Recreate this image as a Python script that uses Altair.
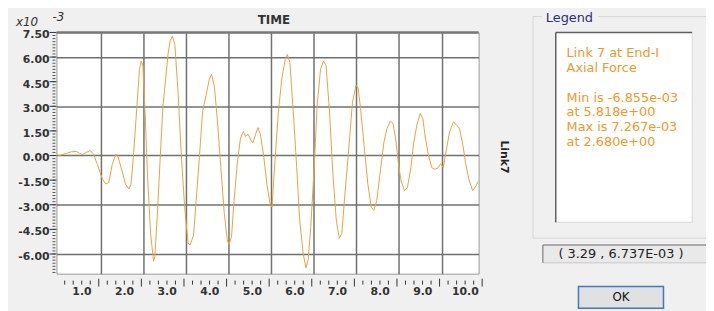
import altair as alt
import pandas as pd

# ---------------- data ----------------
time_s = [0.00, 0.03, 0.15, 0.30, 0.42, 0.50, 0.57, 0.65, 0.75, 0.83, 0.92, 1.04, 1.12, 1.19,
          1.27, 1.35, 1.40, 1.50, 1.58, 1.66, 1.71, 1.77, 1.85, 1.91, 1.95, 1.99, 2.04, 2.10,
          2.17, 2.24, 2.27, 2.33, 2.40, 2.46, 2.52, 2.58, 2.63, 2.68, 2.74, 2.82, 2.89, 2.97,
          3.05, 3.10, 3.18, 3.24, 3.32, 3.39, 3.47, 3.55, 3.60, 3.67, 3.74, 3.82, 3.90, 3.97,
          4.01, 4.07, 4.13, 4.21, 4.28, 4.35, 4.40, 4.46, 4.52, 4.57, 4.63, 4.69, 4.75, 4.83,
          4.90, 4.98, 5.02, 5.09, 5.17, 5.25, 5.33, 5.38, 5.44, 5.52, 5.60, 5.67, 5.75, 5.818,
          5.87, 5.93, 6.01, 6.08, 6.16, 6.23, 6.29, 6.37, 6.45, 6.53, 6.60, 6.66, 6.72, 6.81,
          6.91, 6.99, 7.04, 7.10, 7.18, 7.27, 7.35, 7.41, 7.48, 7.57, 7.65, 7.72, 7.80, 7.86,
          7.92, 7.99, 8.05, 8.13, 8.20, 8.28, 8.34, 8.42, 8.50, 8.56, 8.61, 8.69, 8.77, 8.84,
          8.92, 8.98, 9.04, 9.12, 9.19, 9.28, 9.35, 9.42, 9.50, 9.57, 9.65, 9.73, 9.81, 9.87]
force_e3 = [0.00, 0.00, 0.10, 0.22, 0.26, 0.14, 0.06, 0.18, 0.30, 0.10, -0.54, -1.44, -1.74, -1.64,
            -0.54, 0.06, -0.04, -0.94, -1.74, -2.04, -1.74, 0.06, 3.06, 5.26, 5.76, 5.46, 2.66, -1.34,
            -4.74, -6.44, -6.14, -3.54, 0.06, 3.00, 4.60, 6.20, 7.00, 7.267, 6.76, 3.66, 0.06, -3.14,
            -5.34, -5.44, -4.84, -2.74, 0.06, 2.66, 3.66, 4.66, 4.96, 4.16, 2.06, -0.74, -3.54, -5.14,
            -5.44, -4.94, -2.74, -0.34, 1.06, 1.46, 1.16, 1.30, 0.96, 0.76, 1.26, 1.70, 1.26, -0.14,
            -1.74, -3.04, -3.14, -0.34, 2.66, 4.66, 5.86, 6.16, 5.66, 2.66, -0.74, -3.94, -5.94, -6.855,
            -6.34, -4.34, -0.74, 3.06, 5.26, 5.76, 5.46, 2.66, -1.14, -3.94, -5.04, -4.74, -2.74, 0.06,
            3.26, 4.26, 4.16, 2.86, 0.66, -1.74, -3.14, -3.34, -2.74, -0.80, 0.86, 1.66, 2.10, 1.96,
            1.06, -0.54, -1.54, -2.14, -1.94, -0.74, 0.66, 1.86, 2.56, 2.26, 1.26, 0.06, -0.74, -0.84,
            -0.74, -0.50, -0.74, 0.46, 1.46, 2.06, 1.86, 1.66, 0.66, -0.54, -1.54, -2.14, -1.84, -1.54]

x_major = [1, 2, 3, 4, 5, 6, 7, 8, 9, 10]
x_labels = ["1.0", "2.0", "3.0", "4.0", "5.0", "6.0", "7.0", "8.0", "9.0", "10.0"]
x_minor = [round(0.2 * k, 1) for k in range(1, 50) if k % 5]
y_ticks = [-6.0, -4.5, -3.0, -1.5, 0.0, 1.5, 3.0, 4.5, 6.0, 7.5]
y_labels = ["-6.00", "-4.50", "-3.00", "-1.50", "0.00", "1.50", "3.00", "4.50", "6.00", "7.50"]
y_minor = [round(-7.125 + 0.1875 * k, 4) for k in range(0, 78)]

title_text = "TIME"
y_title = "Link7"
legend_title = "Legend"
legend_lines = ["Link 7 at End-I", "Axial Force", "", "Min is -6.855e-03",
                "at 5.818e+00", "Max is 7.267e-03", "at 2.680e+00"]
coord_text = "( 3.29 , 6.737E-03 )"
ok_text = "OK"

# ---------------- layout ----------------
W, H = 427, 244
BG = "#f0f0f0"
FONT = "DejaVu Sans"
LINE_COLOR = "#E8A33D"
TEXT_ORANGE = "#EE9A28"

xs = alt.Scale(domain=[-0.04, 9.87], nice=False, zero=False)
ys = alt.Scale(domain=[-7.2, 7.5], nice=False, zero=False)

df = pd.DataFrame({"t": time_s, "v": force_e3})
one = pd.DataFrame({"k": [0]})

line = alt.Chart(df).mark_line(color=LINE_COLOR, strokeWidth=1.0, clip=True).encode(
    x=alt.X("t:Q", scale=xs, axis=alt.Axis(values=list(range(1, 10)), grid=True, labels=False,
                                            ticks=False, domain=False, title=None)),
    y=alt.Y("v:Q", scale=ys, axis=alt.Axis(values=y_ticks, grid=True, labels=False, ticks=False,
                                            domain=False, title=None)),
)


def box(x1, y1, x2, y2, fill, stroke=None, sw=1.0):
    kw = dict(fill=fill)
    if stroke:
        kw.update(stroke=stroke, strokeWidth=sw)
    else:
        kw.update(strokeWidth=0)
    return alt.Chart(one).mark_rect(**kw).encode(
        x=alt.value(x1), x2=alt.value(x2), y=alt.value(y1), y2=alt.value(y2))


def seg(x1, y1, x2, y2, color, sw=1.0):
    return alt.Chart(one).mark_rule(color=color, strokeWidth=sw).encode(
        x=alt.value(x1), x2=alt.value(x2), y=alt.value(y1), y2=alt.value(y2))


def label(x, y, text, **kw):
    return alt.Chart(pd.DataFrame({"s": [text]})).mark_text(**kw).encode(
        x=alt.value(x), y=alt.value(y), text="s:N")


layers = [line]

# frame top line
layers.append(seg(0, 0, W, 0, "#7a7a7a", 2.5))

# x ticks and labels
layers.append(alt.Chart(pd.DataFrame({"t": x_minor})).mark_rule(color="#333333", xOffset=-2).encode(
    x=alt.X("t:Q", scale=xs), y=alt.value(251), y2=alt.value(255)))
layers.append(alt.Chart(pd.DataFrame({"t": x_major})).mark_rule(color="#333333", xOffset=-2).encode(
    x=alt.X("t:Q", scale=xs), y=alt.value(249), y2=alt.value(257)))
layers.append(alt.Chart(pd.DataFrame({"t": x_major, "lab": x_labels})).mark_text(
    font=FONT, fontSize=11, fontWeight="bold", color="#333333", dx=-19, baseline="middle").encode(
    x=alt.X("t:Q", scale=xs), y=alt.value(263), text="lab:N"))

# y ticks and labels
layers.append(alt.Chart(pd.DataFrame({"v": y_minor})).mark_rule(color="#555555").encode(
    y=alt.Y("v:Q", scale=ys), x=alt.value(-4), x2=alt.value(-1)))
layers.append(alt.Chart(pd.DataFrame({"v": y_ticks})).mark_rule(color="#333333").encode(
    y=alt.Y("v:Q", scale=ys), x=alt.value(-7), x2=alt.value(0)))
layers.append(alt.Chart(pd.DataFrame({"v": y_ticks, "lab": y_labels})).mark_text(
    font=FONT, fontSize=11, fontWeight="bold", color="#333333", align="right", dy=3,
    baseline="middle").encode(y=alt.Y("v:Q", scale=ys), x=alt.value(-7), text="lab:N"))

# titles
layers.append(label(220, -13, title_text, font=FONT, fontSize=12, fontWeight="bold",
                    color="#333333", align="center", baseline="middle"))
layers.append(label(-41, -11, "x10", font=FONT, fontSize=12, fontStyle="italic",
                    color="#333333", align="left", baseline="middle"))
layers.append(label(-4, -16, "-3", font=FONT, fontSize=12, fontStyle="italic",
                    color="#333333", align="left", baseline="middle"))
layers.append(label(453, 126, y_title, font=FONT, fontSize=11, fontWeight="bold",
                    color="#222222", align="center", baseline="middle", angle=90))

# legend group box
layers.append(box(482, -16, 665, 208, BG, "#d4d4d4", 1))
layers.append(box(491, -24, 548, -8, BG))
layers.append(label(495, -15, legend_title, font=FONT, fontSize=13, color="#2b2b80",
                    align="left", baseline="middle"))
layers.append(box(505, 0, 643, 192, "white", "#d8d8d8", 1))
layers.append(seg(505, 0, 643, 0, "#606060", 1.5))
layers.append(seg(505, 0, 505, 192, "#606060", 1.5))
for i, txt in enumerate(legend_lines):
    if txt:
        layers.append(label(516, 21 + 15 * i, txt, font=FONT, fontSize=13, color=TEXT_ORANGE,
                            align="left", baseline="middle"))

# coordinate readout
layers.append(box(492, 215, 665, 233, "#e9e9e9", "#c8c8c8", 1))
layers.append(seg(492, 215, 665, 215, "#7a7a7a", 1))
layers.append(seg(492, 215, 492, 233, "#7a7a7a", 1))
layers.append(label(571, 224, coord_text, font=FONT, fontSize=13, color="#222222",
                    align="center", baseline="middle"))

# OK button
layers.append(box(528, 257, 614, 279, "#e1e1e1", "#3a7cc0", 1.5))
layers.append(label(571, 268, ok_text, font=FONT, fontSize=12, color="#111111",
                    align="center", baseline="middle"))

chart = alt.layer(*layers).properties(
    width=W, height=H,
    autosize=alt.AutoSizeParams(type="none"),
    padding={"left": 49, "top": 23, "right": 230, "bottom": 36},
    background=BG,
).configure_view(
    fill="white", stroke="#9a9a9a", strokeWidth=1
).configure_axis(
    gridColor="#707070", gridWidth=1.5, gridOpacity=1
)

chart.save("out.html", embed_options={"renderer": "svg", "actions": False})
